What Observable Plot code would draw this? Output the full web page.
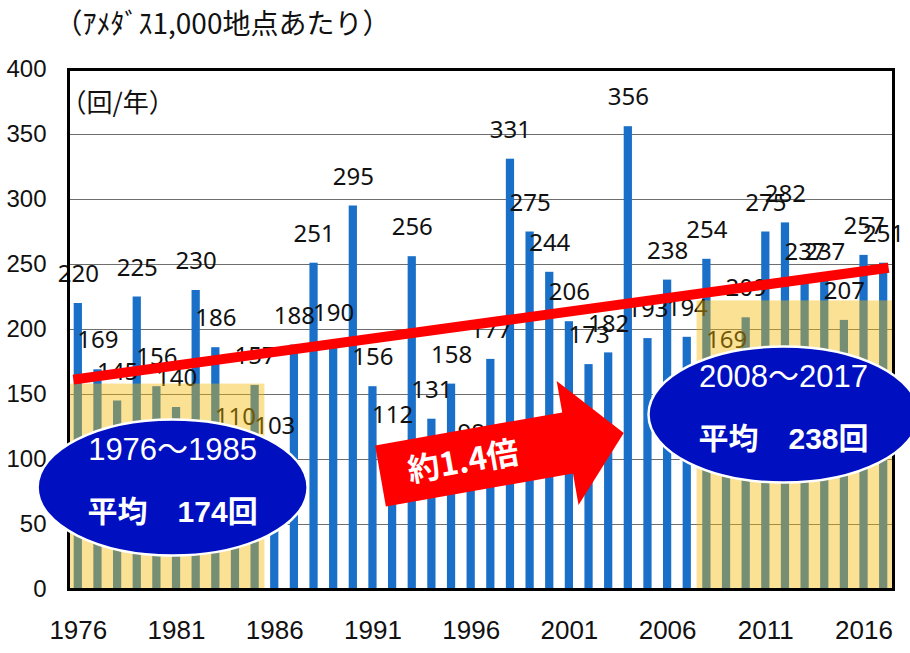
<!DOCTYPE html>
<html lang="ja">
<head>
<meta charset="utf-8">
<script src="https://cdn.jsdelivr.net/npm/d3@7"></script>
<script src="https://cdn.jsdelivr.net/npm/@observablehq/plot@0.6"></script>
<style>
  html, body { margin: 0; padding: 0; background: #fff; }
  #chart { width: 910px; height: 653px; overflow: hidden; }
</style>
</head>
<body>
<div id="chart"></div>
<script>
// Observation years
const years = [
  1976, 1977, 1978, 1979, 1980, 1981, 1982, 1983, 1984, 1985,
  1986, 1987, 1988, 1989, 1990, 1991, 1992, 1993, 1994, 1995,
  1996, 1997, 1998, 1999, 2000, 2001, 2002, 2003, 2004, 2005,
  2006, 2007, 2008, 2009, 2010, 2011, 2012, 2013, 2014, 2015,
  2016, 2017
];
// Occurrences per year of hourly rainfall of 50 mm or more, per 1,000 AMeDAS stations
const counts = [
  220, 169, 145, 225, 156, 140, 230, 186, 110, 157,
  103, 188, 251, 190, 295, 156, 112, 256, 131, 158,
  98, 177, 331, 275, 244, 206, 173, 182, 356, 193,
  238, 194, 254, 169, 209, 275, 282, 237, 237, 207,
  257, 251
];
const yearTicks = [1976, 1981, 1986, 1991, 1996, 2001, 2006, 2011, 2016];
const valueTicks = [0, 50, 100, 150, 200, 250, 300, 350, 400];

// The two ten-year periods compared, with their averages
const periodStart = [1976, 2008];
const periodEnd = [1985, 2017];
const periodMean = [174, 238];
// Level of the shaded band behind each period
const periodShade = [158, 222];

// Ends of the trend line
const trendYears = [1976, 2017];
const trendValues = [162, 247];

const rows = years.map((year, i) => ({year, count: counts[i]}));
const periods = periodStart.map((from, i) => ({from, to: periodEnd[i], mean: periodMean[i], shade: periodShade[i]}));
const trend = trendYears.map((year, i) => ({year, value: trendValues[i]}));
const ratio = (periodMean[1] / periodMean[0]).toFixed(1);

const latin = "'Liberation Sans', 'Noto Sans CJK JP', sans-serif";
const sans = "'Noto Sans', 'Noto Sans CJK JP', sans-serif";
const cjk = "'Noto Sans CJK JP', sans-serif";

// Ellipse outline for the period callouts
function ellipse(rx, ry) {
  const k = 0.5523, ox = rx * k, oy = ry * k;
  return {
    draw(ctx) {
      ctx.moveTo(-rx, 0);
      ctx.bezierCurveTo(-rx, -oy, -ox, -ry, 0, -ry);
      ctx.bezierCurveTo(ox, -ry, rx, -oy, rx, 0);
      ctx.bezierCurveTo(rx, oy, ox, ry, 0, ry);
      ctx.bezierCurveTo(-ox, ry, -rx, oy, -rx, 0);
      ctx.closePath();
    }
  };
}

// Block arrow, tilted upward
function blockArrow(angleDeg) {
  const a = angleDeg * Math.PI / 180, c = Math.cos(a), s = Math.sin(a);
  const pts = [[-123, -31], [67, -31], [67, -63], [124, 0], [67, 63], [67, 31], [-123, 31]];
  return {
    draw(ctx) {
      pts.forEach(([x, y], i) => {
        const X = x * c - y * s, Y = x * s + y * c;
        if (i) ctx.lineTo(X, Y); else ctx.moveTo(X, Y);
      });
      ctx.closePath();
    }
  };
}

// Callout placement, in year / value units
const calloutX = [1980.8, 2011.9];
const calloutY = [78.5, 134.6];
const arrowAt = {x: 1997.55, y: 103.8};
const arrowTextAt = {x: 1995.6, y: 97.7};

const chart = Plot.plot({
  width: 910,
  height: 653,
  marginTop: 69,
  marginRight: 17,
  marginBottom: 64,
  marginLeft: 68,
  style: {fontFamily: latin, fontSize: "26px", color: "#111", background: "#fff"},
  x: {domain: [1975.5, 2017.5], ticks: yearTicks, tickFormat: d => String(d), tickSize: 0, tickPadding: 31, label: null},
  y: {domain: [0, 400], ticks: valueTicks, tickSize: 0, tickPadding: 22, label: null},
  marks: [
    Plot.ruleY(valueTicks.filter(v => v > 0 && v < 400), {stroke: "#6e6e6e", strokeWidth: 1}),
    Plot.rectY(rows, {x1: d => d.year - 0.5, x2: d => d.year + 0.5, y: "count", fill: "#1A70C8", insetLeft: 5.7, insetRight: 5.7}),
    Plot.text(rows, {x: "year", y: "count", text: d => String(d.count), dy: -29, fontFamily: sans, fontSize: 24, fill: "#111"}),
    Plot.rectY(periods, {x1: d => d.from - 0.5, x2: d => d.to + 0.5, y: "shade", fill: "#F5B800", fillOpacity: 0.42}),
    Plot.line(trend, {x: "year", y: "value", stroke: "#FF0000", strokeWidth: 10, strokeLinecap: "square"}),
    Plot.frame({stroke: "#000", strokeWidth: 3}),
    Plot.dot(periods, {x: (d, i) => calloutX[i], y: (d, i) => calloutY[i], symbol: ellipse(135, 68), fill: "#0010C0", stroke: "#fff", strokeWidth: 2.5}),
    Plot.text(periods, {x: (d, i) => calloutX[i], y: (d, i) => calloutY[i], text: d => `${d.from}～${d.to}`, dy: -37, fill: "#fff", fontSize: 31, fontFamily: latin}),
    Plot.text(periods, {x: (d, i) => calloutX[i], y: (d, i) => calloutY[i], text: d => `平均　${d.mean}回`, dy: 25, fill: "#fff", fontSize: 30, fontWeight: "bold", fontFamily: latin}),
    Plot.dot([ratio], {x: () => arrowAt.x, y: () => arrowAt.y, symbol: blockArrow(-10), fill: "#FF0000", stroke: "none"}),
    Plot.text([ratio], {x: () => arrowTextAt.x, y: () => arrowTextAt.y, text: d => `約${d}倍`, rotate: -10, fill: "#fff", fontSize: 32, fontWeight: "bold", fontFamily: cjk}),
    Plot.text(["（ｱﾒﾀﾞｽ1,000地点あたり）"], {frameAnchor: "top-left", text: d => d, dx: -14, dy: -44, textAnchor: "start", lineAnchor: "middle", fontSize: 28, fontFamily: cjk, fill: "#111"}),
    Plot.text(["（回/年）"], {frameAnchor: "top-left", text: d => d, dx: -8, dy: 34, textAnchor: "start", lineAnchor: "middle", fontSize: 26, fontFamily: cjk, fill: "#111"})
  ]
});

// Slightly smaller value labels on the left axis
d3.select(chart).selectAll("g[aria-label='y-axis tick label'] text, g[aria-label='y-axis'] text").style("font-size", "24px");

document.getElementById("chart").appendChild(chart);
</script>
</body>
</html>
